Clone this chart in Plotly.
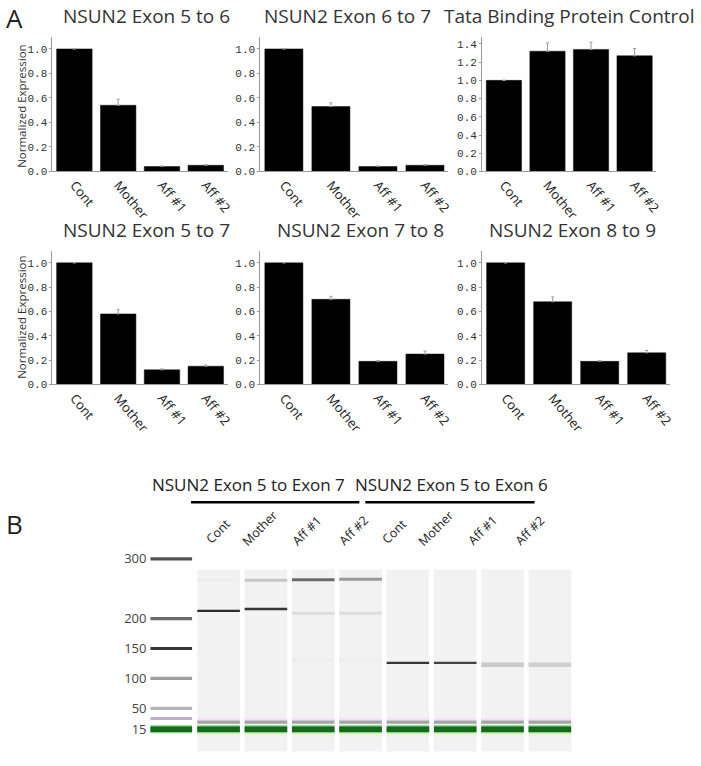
import plotly.graph_objects as go

W, H = 701, 766

# ---------------- Panel A data ----------------
samples = ["Cont", "Mother", "Aff #1", "Aff #2"]

titles = ["NSUN2 Exon 5 to 6", "NSUN2 Exon 6 to 7", "Tata Binding Protein Control",
          "NSUN2 Exon 5 to 7", "NSUN2 Exon 7 to 8", "NSUN2 Exon 8 to 9"]

exon5_6 = [1.00, 0.54, 0.04, 0.05]
exon5_6_err = [None, 0.05, 0.005, 0.005]
exon6_7 = [1.00, 0.53, 0.04, 0.05]
exon6_7_err = [None, 0.03, 0.005, 0.006]
tbp = [1.00, 1.32, 1.34, 1.27]
tbp_err = [None, 0.09, 0.08, 0.08]
exon5_7 = [1.00, 0.58, 0.12, 0.15]
exon5_7_err = [None, 0.035, 0.008, 0.01]
exon7_8 = [1.00, 0.70, 0.19, 0.25]
exon7_8_err = [None, 0.025, 0.006, 0.025]
exon8_9 = [1.00, 0.68, 0.19, 0.26]
exon8_9_err = [None, 0.04, 0.006, 0.02]

y_title = "Normalized Expression"

# ---------------- Panel B data ----------------
gel_groups = ["NSUN2 Exon 5 to Exon 7", "NSUN2 Exon 5 to Exon 6"]
lane_names = ["Cont", "Mother", "Aff #1", "Aff #2", "Cont", "Mother", "Aff #1", "Aff #2"]

ladder_sizes = [300, 200, 150, 100, 50, 15]
ladder_labels = ["300", "200", "150", "100", "50", "15"]
ladder_intensity = [0.72, 0.62, 0.85, 0.40, 0.30]
ladder_faint_bp = 33          # lavender ladder band between 50 and 15

band_lane = [1, 1, 2, 2, 3, 3, 3, 4, 4, 4, 5, 6, 7, 8]
band_bp = [265, 213, 264, 216, 265, 209, 131, 266, 209, 131, 126, 126, 123, 123]
band_intensity = [0.05, 0.90, 0.22, 0.85, 0.62, 0.12, 0.05, 0.42, 0.12, 0.05,
                  0.85, 0.80, 0.20, 0.18]
primer_bp = 27               # grey low band present in every sample lane
marker_bp = 15               # green lower marker

# ---------------- helpers ----------------
def fx(px):
    return px / W

def fy(py):
    return 1 - py / H

fig = go.Figure()

series = [(exon5_6, exon5_6_err), (exon6_7, exon6_7_err), (tbp, tbp_err),
          (exon5_7, exon5_7_err), (exon7_8, exon7_8_err), (exon8_9, exon8_9_err)]

x_dom = [(53, 230), (263, 453), (487, 663), (53, 230), (263, 453), (487, 677)]
y_dom = [(37, 173)] * 3 + [(253, 388)] * 3
y_top = [1.1, 1.1, 1.48, 1.1, 1.1, 1.1]
title_pos = [(148, 16), (351, 16), (575, 16), (148, 232), (364, 232), (578, 232)]

annotations = []
shapes = []
layout_axes = {}

for k, (vals, errs) in enumerate(series):
    n = k + 1
    xa = "x" if n == 1 else f"x{n}"
    ya = "y" if n == 1 else f"y{n}"
    fig.add_trace(go.Bar(
        x=samples, y=vals, xaxis=xa, yaxis=ya, width=0.81,
        marker=dict(color="black", line=dict(color="#111", width=0.5)),
        error_y=dict(type="data", array=errs, symmetric=False,
                     arrayminus=[0] * len(errs), color="#9a9a9a", thickness=1, width=1.5),
        showlegend=False, hoverinfo="skip"))
    xk = "xaxis" if n == 1 else f"xaxis{n}"
    yk = "yaxis" if n == 1 else f"yaxis{n}"
    layout_axes[xk] = dict(
        domain=[fx(x_dom[k][0]), fx(x_dom[k][1])], anchor=ya, type="category",
        range=[-0.5, 3.5], showgrid=False, zeroline=False, showline=True,
        linecolor="#9a9a9a", linewidth=1, ticks="", tickangle=50,
        tickfont=dict(family="Open Sans", size=13, color="#222"))
    layout_axes[yk] = dict(
        domain=[fy(y_dom[k][1]), fy(y_dom[k][0])], anchor=xa,
        range=[0, y_top[k]], showgrid=False, zeroline=False, showline=True,
        linecolor="#9a9a9a", linewidth=1, ticks="outside", ticklen=2,
        tickcolor="#9a9a9a", tick0=0, dtick=0.2, tickformat=".1f",
        tickfont=dict(family="Liberation Mono", size=11, color="#333"))
    tx, ty = title_pos[k]
    annotations.append(dict(text=titles[k], x=fx(tx), y=fy(ty), xref="paper", yref="paper",
                            showarrow=False, xanchor="center", yanchor="middle",
                            font=dict(family="Open Sans", size=19, color="#333")))

# y-axis titles
for cy in (107, 320):
    annotations.append(dict(text=y_title, x=fx(21), y=fy(cy), xref="paper", yref="paper",
                            showarrow=False, textangle=-90, xanchor="center", yanchor="middle",
                            font=dict(family="Open Sans", size=11.5, color="#333")))

# panel letters
annotations.append(dict(text="A", x=fx(15), y=fy(18), xref="paper", yref="paper",
                        showarrow=False, xanchor="center", yanchor="middle",
                        font=dict(family="Open Sans", size=26, color="#222")))
annotations.append(dict(text="B", x=fx(15), y=fy(529), xref="paper", yref="paper",
                        showarrow=False, xanchor="center", yanchor="middle",
                        font=dict(family="Open Sans", size=26, color="#222")))

# ---------------- gel ----------------
GX, GY = "x7", "y7"
half = 0.45

def gray(intensity):
    g = int(round(248 - 228 * intensity))
    return f"rgb({g},{g},{g})"

# lane backgrounds
for i in range(1, 9):
    shapes.append(dict(type="rect", xref="x7", yref="y7", x0=i - half, x1=i + half,
                       y0=-22, y1=282, fillcolor="#f2f2f2", line=dict(width=0), layer="below"))

def band(lane, bp, color, width, hw=half):
    fig.add_trace(go.Scatter(x=[lane - hw, lane + hw], y=[bp, bp], mode="lines",
                             line=dict(color=color, width=width), xaxis=GX, yaxis=GY,
                             showlegend=False, hoverinfo="skip"))

# ladder
for bp, it in zip(ladder_sizes[:-1], ladder_intensity):
    band(0, bp, gray(it), 3.2, 0.44)
band(0, ladder_faint_bp, "#bcb0c8", 3, 0.44)
band(0, marker_bp, "#7fd67f", 8, 0.44)
band(0, marker_bp, "#17691b", 5.5, 0.44)

# sample lanes common bands
for i in range(1, 9):
    band(i, primer_bp + 5, "#f3e2f2", 2)
    band(i, primer_bp, "#a4a4a8", 3.2)
    band(i, marker_bp - 9, "#f2f0d0", 1.5)
    band(i, marker_bp, "#7fd67f", 8)
    band(i, marker_bp, "#17691b", 5.5)

# sample specific bands
for ln, bp, it in zip(band_lane, band_bp, band_intensity):
    w = 4.5 if (ln >= 7) else (3 if it < 0.7 else 2.4)
    band(ln, bp, gray(it), w)

layout_axes["xaxis7"] = dict(domain=[fx(149), fx(600)], anchor="y7", range=[-0.502, 8.933],
                             visible=False)
layout_axes["yaxis7"] = dict(domain=[fy(766), fy(550)], anchor="x7", range=[-34.7, 323.1],
                             showgrid=False, zeroline=False, showline=False, ticks="",
                             tickvals=ladder_sizes, ticktext=ladder_labels,
                             tickfont=dict(family="Open Sans", size=13, color="#444"))

# group titles and bars
for name, cx, (x0, x1) in zip(gel_groups, (251.5, 456), ((193, 363), (369, 540))):
    annotations.append(dict(text=name, x=fx(cx), y=fy(489), xref="paper", yref="paper",
                            showarrow=False, xanchor="center", yanchor="middle",
                            font=dict(family="Open Sans", size=17, color="#222")))
    shapes.append(dict(type="line", xref="paper", yref="paper", x0=fx(x0), x1=fx(x1),
                       y0=fy(507), y1=fy(507), line=dict(color="black", width=2.5)))

lane_label_pos = [(220, 536), (262, 533), (310, 535), (357, 535),
                  (398, 536), (440, 533), (487, 535), (535, 535)]
for name, (lx, ly) in zip(lane_names, lane_label_pos):
    annotations.append(dict(text=name, x=fx(lx), y=fy(ly), xref="paper", yref="paper",
                            showarrow=False, textangle=-45, xanchor="center", yanchor="middle",
                            font=dict(family="Open Sans", size=12.5, color="#222")))

fig.update_layout(
    width=W, height=H, margin=dict(l=0, r=0, t=0, b=0),
    paper_bgcolor="white", plot_bgcolor="white", bargap=0.19,
    annotations=annotations, shapes=shapes, **layout_axes)

page_fix = ("document.documentElement.style.margin='0';"
            "document.documentElement.style.overflow='hidden';"
            "document.body.style.margin='0';"
            "document.body.style.padding='0';"
            "document.body.style.overflow='hidden';"
            "document.body.style.height='766px';")

fig.write_html("out.html", config={"displayModeBar": False, "responsive": False},
               post_script=page_fix)
